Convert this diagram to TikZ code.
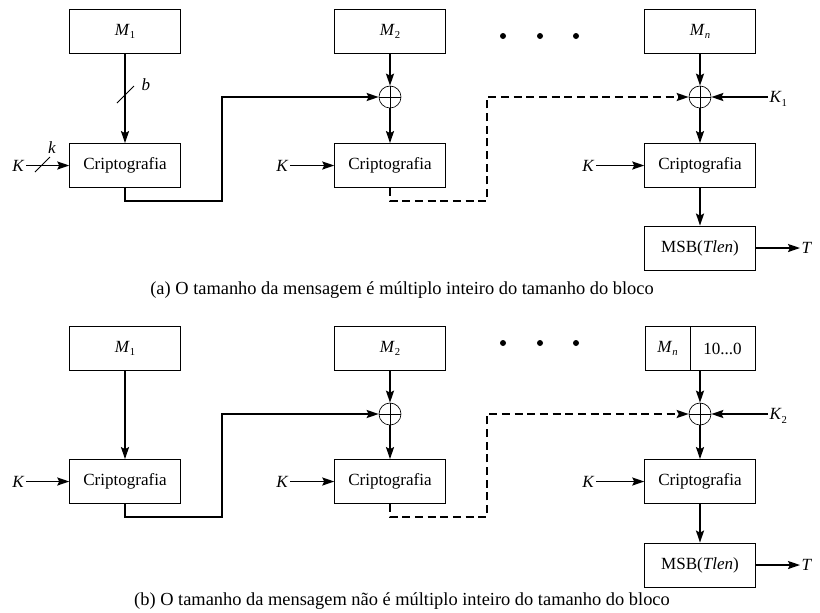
\documentclass[tikz,border=0pt]{standalone}
\usepackage{fontspec}
\setmainfont{Liberation Serif}[Ligatures=TeX]
\usetikzlibrary{arrows.meta}
\newcommand\msub[2]{\textit{#1}\raisebox{-0.45ex}{\footnotesize #2}}
\tikzset{
  blk/.style={draw, line width=0.6pt, minimum width=83pt, minimum height=33pt, inner sep=0pt, font=\fontsize{12.8}{14}\selectfont},
  xorop/.style={draw, circle, line width=0.5pt, minimum size=16.5pt, inner sep=0pt,
     path picture={\draw[line width=0.4pt] (path picture bounding box.north) -- (path picture bounding box.south)
       (path picture bounding box.west) -- (path picture bounding box.east);}},
  lbl/.style={inner sep=1pt, font=\fontsize{12.8}{14}\selectfont},
  flow/.style={line width=1.4pt, -{Stealth[length=9pt,width=6pt,inset=1.5pt]}},
  dflow/.style={line width=1.4pt, dash pattern=on 6pt off 3.5pt, -{Stealth[length=9pt,width=6pt,inset=1.5pt]}},
  dotb/.style={fill, circle, inner sep=0pt, minimum size=4.5pt},
  captxt/.style={inner sep=0pt, font=\fontsize{13.8}{15}\selectfont}
}
\begin{document}
\begin{tikzpicture}[x=0.75pt, y=-0.75pt]
\useasboundingbox (0,0) rectangle (820,612);
% ---------- (a) ----------
\node[blk] (m1a) at (125,31.5) {\msub{M}{1}};
\node[blk] (m2a) at (390,31.5) {\msub{M}{2}};
\node[blk] (mna) at (700,31.5) {\msub{M}{\textit{n}}};
\node[blk] (ca1) at (125,165.5) {Criptografia};
\node[blk] (ca2) at (390,165.5) {Criptografia};
\node[blk] (can) at (700,165.5) {Criptografia};
\node[blk] (msba) at (700,248) {MSB(\textit{Tlen})};
\node[xorop] (xa2) at (390,97) {};
\node[xorop] (xan) at (700,97) {};
\node[dotb] (da1) at (503,36) {};
\node[dotb] (da2) at (540,36) {};
\node[dotb] (da3) at (576,36) {};
\node[lbl, anchor=east] (ka1) at (26,165.5) {\textit{K}};
\node[lbl, anchor=east] (ka2) at (290,165.5) {\textit{K}};
\node[lbl, anchor=east] (kan) at (596,165.5) {\textit{K}};
\node[lbl, anchor=west] (k1) at (768,99) {\msub{K}{1}};
\node[lbl, anchor=west] (ta) at (800,248) {\textit{T}};
\node[lbl] (bl) at (146,85) {\textit{b}};
\node[lbl] (kl) at (52,148) {\textit{k}};
\coordinate (sa1) at (117,103);
\coordinate (sa2) at (134,86);
\coordinate (sk1) at (35,172);
\coordinate (sk2) at (50,157);
\coordinate (ja1) at (222,201);
\coordinate (ja2) at (487,201);
\draw[flow] (m1a) -- (ca1);
\draw[line width=0.6pt] (sa1) -- (sa2);
\draw[flow] (ka1) -- (ca1);
\draw[line width=0.6pt] (sk1) -- (sk2);
\draw[flow] (m2a) -- (xa2);
\draw[flow] (xa2) -- (ca2);
\draw[flow] (ka2) -- (ca2);
\draw[flow] (mna) -- (xan);
\draw[flow] (xan) -- (can);
\draw[flow] (kan) -- (can);
\draw[flow] (xan -| k1.west) -- (xan);
\draw[flow] (can) -- (msba);
\draw[flow] (msba) -- (ta);
\draw[flow] (ca1.south) |- (ja1) |- (xa2.west);
\draw[dflow] (ca2.south) |- (ja2) |- (xan.west);
\node[captxt] (capa) at (402,290) {(a) O tamanho da mensagem é múltiplo inteiro do tamanho do bloco};
% ---------- (b) ----------
\node[blk] (m1b) at (125,348.5) {\msub{M}{1}};
\node[blk] (m2b) at (390,348.5) {\msub{M}{2}};
\node[blk, minimum width=33.75pt] (mnb) at (667.5,348.5) {\msub{M}{\textit{n}}};
\node[blk, minimum width=48.75pt] (pad) at (722.5,348.5) {10...0};
\node[blk] (cb1) at (125,481.5) {Criptografia};
\node[blk] (cb2) at (390,481.5) {Criptografia};
\node[blk] (cbn) at (700,481.5) {Criptografia};
\node[blk] (msbb) at (700,565) {MSB(\textit{Tlen})};
\node[xorop] (xb2) at (390,414) {};
\node[xorop] (xbn) at (700,414) {};
\node[dotb] (db1) at (503,343) {};
\node[dotb] (db2) at (540,343) {};
\node[dotb] (db3) at (576,343) {};
\node[lbl, anchor=east] (kb1) at (26,481.5) {\textit{K}};
\node[lbl, anchor=east] (kb2) at (290,481.5) {\textit{K}};
\node[lbl, anchor=east] (kbn) at (596,481.5) {\textit{K}};
\node[lbl, anchor=west] (k2) at (768,416) {\msub{K}{2}};
\node[lbl, anchor=west] (tb) at (800,565) {\textit{T}};
\coordinate (jb1) at (222,517);
\coordinate (jb2) at (487,517);
\draw[flow] (m1b) -- (cb1);
\draw[flow] (kb1) -- (cb1);
\draw[flow] (m2b) -- (xb2);
\draw[flow] (xb2) -- (cb2);
\draw[flow] (kb2) -- (cb2);
\draw[flow] (xbn |- pad.south) -- (xbn);
\draw[flow] (xbn) -- (cbn);
\draw[flow] (kbn) -- (cbn);
\draw[flow] (xbn -| k2.west) -- (xbn);
\draw[flow] (cbn) -- (msbb);
\draw[flow] (msbb) -- (tb);
\draw[flow] (cb1.south) |- (jb1) |- (xb2.west);
\draw[dflow] (cb2.south) |- (jb2) |- (xbn.west);
\node[captxt] (capb) at (402,601) {(b) O tamanho da mensagem não é múltiplo inteiro do tamanho do bloco};
\end{tikzpicture}
\end{document}
